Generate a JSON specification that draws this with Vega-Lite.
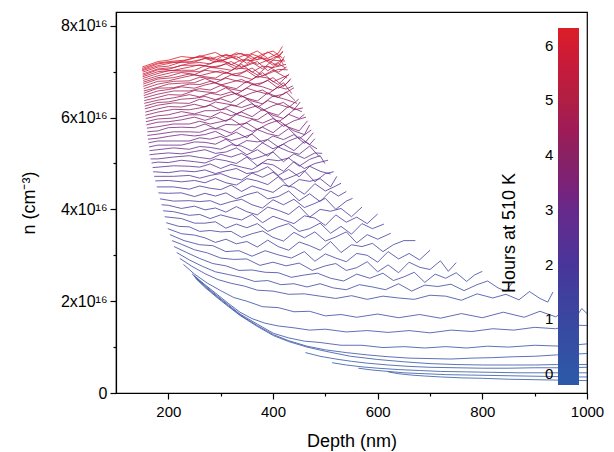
{
"$schema":"https://vega.github.io/schema/vega-lite/v6.json",
"width":471,"height":381,
"autosize":{"type":"none"},
"padding":{"left":116,"top":12,"right":27,"bottom":59},
"background":"white",
"config":{
"font":"Liberation Sans",
"view":{"stroke":"black","strokeWidth":1.2},
"axis":{"domainColor":"black","domainWidth":1.2,"tickColor":"black","tickWidth":1.2,"labelColor":"black","titleColor":"black","grid":false,"labelFontSize":15,"titleFontSize":18,"titleFontWeight":"normal","labelFont":"Liberation Sans","titleFont":"Liberation Sans"}
},
"resolve":{"axis":{"x":"independent","y":"independent"}},
"layer":[
{"data":{"values":[
{"h":6.2,"x":150,"y":7.10},{"h":6.2,"x":180,"y":7.22},{"h":6.2,"x":200,"y":7.25},{"h":6.2,"x":225,"y":7.33},{"h":6.2,"x":250,"y":7.30},{"h":6.2,"x":270,"y":7.36},{"h":6.2,"x":290,"y":7.42},{"h":6.2,"x":310,"y":7.30},{"h":6.2,"x":330,"y":7.41},{"h":6.2,"x":350,"y":7.35},{"h":6.2,"x":370,"y":7.45},{"h":6.2,"x":390,"y":7.29},{"h":6.2,"x":410,"y":7.40},{"h":6.2,"x":418,"y":7.55},
{"h":6.1,"x":150,"y":7.07},{"h":6.1,"x":180,"y":7.19},{"h":6.1,"x":210,"y":7.23},{"h":6.1,"x":240,"y":7.26},{"h":6.1,"x":260,"y":7.35},{"h":6.1,"x":280,"y":7.27},{"h":6.1,"x":300,"y":7.35},{"h":6.1,"x":320,"y":7.35},{"h":6.1,"x":340,"y":7.40},{"h":6.1,"x":360,"y":7.27},{"h":6.1,"x":380,"y":7.38},{"h":6.1,"x":400,"y":7.45},{"h":6.1,"x":418,"y":7.30},
{"h":6.0,"x":150,"y":7.04},{"h":6.0,"x":180,"y":7.17},{"h":6.0,"x":200,"y":7.20},{"h":6.0,"x":225,"y":7.22},{"h":6.0,"x":250,"y":7.31},{"h":6.0,"x":270,"y":7.32},{"h":6.0,"x":290,"y":7.25},{"h":6.0,"x":310,"y":7.38},{"h":6.0,"x":330,"y":7.29},{"h":6.0,"x":350,"y":7.38},{"h":6.0,"x":370,"y":7.26},{"h":6.0,"x":390,"y":7.43},{"h":6.0,"x":410,"y":7.30},{"h":6.0,"x":419,"y":7.45},
{"h":5.9,"x":150,"y":7.02},{"h":5.9,"x":180,"y":7.13},{"h":5.9,"x":210,"y":7.20},{"h":5.9,"x":240,"y":7.21},{"h":5.9,"x":260,"y":7.26},{"h":5.9,"x":280,"y":7.32},{"h":5.9,"x":300,"y":7.23},{"h":5.9,"x":320,"y":7.32},{"h":5.9,"x":340,"y":7.22},{"h":5.9,"x":360,"y":7.38},{"h":5.9,"x":380,"y":7.30},{"h":5.9,"x":400,"y":7.25},{"h":5.9,"x":419,"y":7.43},
{"h":5.8,"x":151,"y":6.99},{"h":5.8,"x":180,"y":7.10},{"h":5.8,"x":200,"y":7.12},{"h":5.8,"x":225,"y":7.21},{"h":5.8,"x":250,"y":7.21},{"h":5.8,"x":270,"y":7.29},{"h":5.8,"x":290,"y":7.21},{"h":5.8,"x":310,"y":7.27},{"h":5.8,"x":330,"y":7.34},{"h":5.8,"x":350,"y":7.18},{"h":5.8,"x":370,"y":7.32},{"h":5.8,"x":390,"y":7.24},{"h":5.8,"x":410,"y":7.35},{"h":5.8,"x":420,"y":7.15},
{"h":5.7,"x":151,"y":6.95},{"h":5.7,"x":180,"y":7.06},{"h":5.7,"x":210,"y":7.09},{"h":5.7,"x":240,"y":7.18},{"h":5.7,"x":260,"y":7.20},{"h":5.7,"x":280,"y":7.17},{"h":5.7,"x":300,"y":7.27},{"h":5.7,"x":320,"y":7.15},{"h":5.7,"x":340,"y":7.26},{"h":5.7,"x":360,"y":7.24},{"h":5.7,"x":380,"y":7.29},{"h":5.7,"x":400,"y":7.14},{"h":5.7,"x":421,"y":7.27},
{"h":5.6,"x":151,"y":6.92},{"h":5.6,"x":180,"y":7.04},{"h":5.6,"x":200,"y":7.05},{"h":5.6,"x":225,"y":7.14},{"h":5.6,"x":250,"y":7.14},{"h":5.6,"x":270,"y":7.13},{"h":5.6,"x":290,"y":7.22},{"h":5.6,"x":310,"y":7.21},{"h":5.6,"x":330,"y":7.11},{"h":5.6,"x":350,"y":7.28},{"h":5.6,"x":370,"y":7.16},{"h":5.6,"x":390,"y":7.25},{"h":5.6,"x":410,"y":7.12},{"h":5.6,"x":422,"y":7.33},
{"h":5.5,"x":151,"y":6.89},{"h":5.5,"x":180,"y":7.00},{"h":5.5,"x":210,"y":7.03},{"h":5.5,"x":240,"y":7.10},{"h":5.5,"x":260,"y":7.15},{"h":5.5,"x":280,"y":7.10},{"h":5.5,"x":300,"y":7.13},{"h":5.5,"x":320,"y":7.22},{"h":5.5,"x":340,"y":7.10},{"h":5.5,"x":360,"y":7.20},{"h":5.5,"x":380,"y":7.06},{"h":5.5,"x":400,"y":7.25},{"h":5.5,"x":423,"y":7.23},
{"h":5.4,"x":151,"y":6.85},{"h":5.4,"x":180,"y":6.96},{"h":5.4,"x":200,"y":7.02},{"h":5.4,"x":225,"y":7.03},{"h":5.4,"x":250,"y":7.03},{"h":5.4,"x":270,"y":7.13},{"h":5.4,"x":290,"y":7.09},{"h":5.4,"x":310,"y":7.17},{"h":5.4,"x":330,"y":7.05},{"h":5.4,"x":350,"y":7.13},{"h":5.4,"x":370,"y":7.22},{"h":5.4,"x":390,"y":7.02},{"h":5.4,"x":410,"y":7.18},{"h":5.4,"x":424,"y":7.08},
{"h":5.3,"x":152,"y":6.81},{"h":5.3,"x":180,"y":6.91},{"h":5.3,"x":210,"y":6.99},{"h":5.3,"x":240,"y":7.00},{"h":5.3,"x":260,"y":7.00},{"h":5.3,"x":280,"y":7.09},{"h":5.3,"x":300,"y":7.07},{"h":5.3,"x":320,"y":7.03},{"h":5.3,"x":340,"y":7.16},{"h":5.3,"x":360,"y":6.99},{"h":5.3,"x":380,"y":7.12},{"h":5.3,"x":400,"y":7.09},{"h":5.3,"x":425,"y":7.16},
{"h":5.2,"x":152,"y":6.77},{"h":5.2,"x":180,"y":6.87},{"h":5.2,"x":200,"y":6.90},{"h":5.2,"x":225,"y":6.98},{"h":5.2,"x":250,"y":6.94},{"h":5.2,"x":270,"y":7.03},{"h":5.2,"x":290,"y":7.00},{"h":5.2,"x":310,"y":6.96},{"h":5.2,"x":330,"y":7.08},{"h":5.2,"x":350,"y":7.06},{"h":5.2,"x":370,"y":6.93},{"h":5.2,"x":390,"y":7.12},{"h":5.2,"x":410,"y":6.99},{"h":5.2,"x":426,"y":7.10},
{"h":5.1,"x":152,"y":6.73},{"h":5.1,"x":180,"y":6.84},{"h":5.1,"x":210,"y":6.87},{"h":5.1,"x":240,"y":6.95},{"h":5.1,"x":260,"y":6.91},{"h":5.1,"x":280,"y":6.97},{"h":5.1,"x":300,"y":7.02},{"h":5.1,"x":320,"y":6.94},{"h":5.1,"x":340,"y":6.98},{"h":5.1,"x":360,"y":7.08},{"h":5.1,"x":380,"y":6.91},{"h":5.1,"x":400,"y":7.03},{"h":5.1,"x":427,"y":6.86},
{"h":5.0,"x":152,"y":6.68},{"h":5.0,"x":180,"y":6.79},{"h":5.0,"x":200,"y":6.80},{"h":5.0,"x":225,"y":6.87},{"h":5.0,"x":250,"y":6.93},{"h":5.0,"x":270,"y":6.89},{"h":5.0,"x":290,"y":6.86},{"h":5.0,"x":310,"y":6.99},{"h":5.0,"x":330,"y":6.91},{"h":5.0,"x":350,"y":7.02},{"h":5.0,"x":370,"y":6.87},{"h":5.0,"x":390,"y":6.95},{"h":5.0,"x":410,"y":7.05},{"h":5.0,"x":428,"y":7.04},
{"h":4.9,"x":153,"y":6.63},{"h":4.9,"x":180,"y":6.73},{"h":4.9,"x":210,"y":6.79},{"h":4.9,"x":240,"y":6.80},{"h":4.9,"x":260,"y":6.88},{"h":4.9,"x":280,"y":6.85},{"h":4.9,"x":300,"y":6.82},{"h":4.9,"x":320,"y":6.93},{"h":4.9,"x":340,"y":6.90},{"h":4.9,"x":360,"y":6.83},{"h":4.9,"x":380,"y":6.98},{"h":4.9,"x":400,"y":6.78},{"h":4.9,"x":430,"y":6.93},
{"h":4.8,"x":153,"y":6.58},{"h":4.8,"x":180,"y":6.66},{"h":4.8,"x":200,"y":6.73},{"h":4.8,"x":225,"y":6.75},{"h":4.8,"x":250,"y":6.76},{"h":4.8,"x":270,"y":6.85},{"h":4.8,"x":290,"y":6.76},{"h":4.8,"x":310,"y":6.86},{"h":4.8,"x":330,"y":6.80},{"h":4.8,"x":350,"y":6.76},{"h":4.8,"x":370,"y":6.90},{"h":4.8,"x":390,"y":6.86},{"h":4.8,"x":410,"y":6.72},{"h":4.8,"x":431,"y":6.95},
{"h":4.7,"x":153,"y":6.53},{"h":4.7,"x":180,"y":6.64},{"h":4.7,"x":210,"y":6.65},{"h":4.7,"x":240,"y":6.73},{"h":4.7,"x":260,"y":6.72},{"h":4.7,"x":280,"y":6.79},{"h":4.7,"x":300,"y":6.71},{"h":4.7,"x":320,"y":6.77},{"h":4.7,"x":340,"y":6.83},{"h":4.7,"x":360,"y":6.72},{"h":4.7,"x":380,"y":6.76},{"h":4.7,"x":400,"y":6.87},{"h":4.7,"x":420,"y":6.68},{"h":4.7,"x":433,"y":6.82},
{"h":4.6,"x":153,"y":6.48},{"h":4.6,"x":180,"y":6.58},{"h":4.6,"x":200,"y":6.61},{"h":4.6,"x":225,"y":6.67},{"h":4.6,"x":250,"y":6.64},{"h":4.6,"x":270,"y":6.71},{"h":4.6,"x":290,"y":6.76},{"h":4.6,"x":310,"y":6.68},{"h":4.6,"x":330,"y":6.63},{"h":4.6,"x":350,"y":6.79},{"h":4.6,"x":370,"y":6.70},{"h":4.6,"x":390,"y":6.81},{"h":4.6,"x":410,"y":6.64},{"h":4.6,"x":425,"y":6.73},{"h":4.6,"x":434,"y":6.85},
{"h":4.5,"x":154,"y":6.43},{"h":4.5,"x":180,"y":6.51},{"h":4.5,"x":210,"y":6.58},{"h":4.5,"x":240,"y":6.58},{"h":4.5,"x":260,"y":6.63},{"h":4.5,"x":280,"y":6.60},{"h":4.5,"x":300,"y":6.70},{"h":4.5,"x":320,"y":6.62},{"h":4.5,"x":340,"y":6.58},{"h":4.5,"x":360,"y":6.72},{"h":4.5,"x":380,"y":6.67},{"h":4.5,"x":400,"y":6.59},{"h":4.5,"x":420,"y":6.76},{"h":4.5,"x":436,"y":6.52},
{"h":4.4,"x":154,"y":6.37},{"h":4.4,"x":180,"y":6.44},{"h":4.4,"x":200,"y":6.50},{"h":4.4,"x":225,"y":6.49},{"h":4.4,"x":250,"y":6.59},{"h":4.4,"x":270,"y":6.56},{"h":4.4,"x":290,"y":6.54},{"h":4.4,"x":310,"y":6.65},{"h":4.4,"x":330,"y":6.51},{"h":4.4,"x":350,"y":6.64},{"h":4.4,"x":370,"y":6.57},{"h":4.4,"x":390,"y":6.51},{"h":4.4,"x":410,"y":6.67},{"h":4.4,"x":425,"y":6.62},{"h":4.4,"x":438,"y":6.69},
{"h":4.3,"x":154,"y":6.31},{"h":4.3,"x":180,"y":6.38},{"h":4.3,"x":210,"y":6.43},{"h":4.3,"x":240,"y":6.50},{"h":4.3,"x":260,"y":6.45},{"h":4.3,"x":280,"y":6.53},{"h":4.3,"x":300,"y":6.49},{"h":4.3,"x":320,"y":6.56},{"h":4.3,"x":340,"y":6.45},{"h":4.3,"x":360,"y":6.54},{"h":4.3,"x":380,"y":6.60},{"h":4.3,"x":400,"y":6.46},{"h":4.3,"x":420,"y":6.51},{"h":4.3,"x":440,"y":6.65},
{"h":4.2,"x":155,"y":6.25},{"h":4.2,"x":180,"y":6.33},{"h":4.2,"x":200,"y":6.34},{"h":4.2,"x":225,"y":6.40},{"h":4.2,"x":250,"y":6.42},{"h":4.2,"x":270,"y":6.46},{"h":4.2,"x":290,"y":6.39},{"h":4.2,"x":310,"y":6.47},{"h":4.2,"x":330,"y":6.53},{"h":4.2,"x":350,"y":6.42},{"h":4.2,"x":370,"y":6.36},{"h":4.2,"x":390,"y":6.54},{"h":4.2,"x":410,"y":6.44},{"h":4.2,"x":425,"y":6.56},{"h":4.2,"x":442,"y":6.37},
{"h":4.1,"x":155,"y":6.19},{"h":4.1,"x":180,"y":6.27},{"h":4.1,"x":210,"y":6.32},{"h":4.1,"x":240,"y":6.31},{"h":4.1,"x":260,"y":6.40},{"h":4.1,"x":280,"y":6.35},{"h":4.1,"x":300,"y":6.41},{"h":4.1,"x":320,"y":6.33},{"h":4.1,"x":340,"y":6.47},{"h":4.1,"x":360,"y":6.36},{"h":4.1,"x":380,"y":6.30},{"h":4.1,"x":400,"y":6.47},{"h":4.1,"x":420,"y":6.41},{"h":4.1,"x":446,"y":6.31},
{"h":4.0,"x":156,"y":6.12},{"h":4.0,"x":180,"y":6.19},{"h":4.0,"x":200,"y":6.24},{"h":4.0,"x":225,"y":6.23},{"h":4.0,"x":250,"y":6.29},{"h":4.0,"x":270,"y":6.23},{"h":4.0,"x":290,"y":6.34},{"h":4.0,"x":310,"y":6.30},{"h":4.0,"x":330,"y":6.26},{"h":4.0,"x":350,"y":6.40},{"h":4.0,"x":370,"y":6.22},{"h":4.0,"x":390,"y":6.37},{"h":4.0,"x":410,"y":6.29},{"h":4.0,"x":430,"y":6.22},{"h":4.0,"x":449,"y":6.40},
{"h":3.9,"x":156,"y":6.05},{"h":3.9,"x":180,"y":6.12},{"h":3.9,"x":210,"y":6.18},{"h":3.9,"x":240,"y":6.17},{"h":3.9,"x":260,"y":6.21},{"h":3.9,"x":280,"y":6.27},{"h":3.9,"x":300,"y":6.17},{"h":3.9,"x":320,"y":6.27},{"h":3.9,"x":340,"y":6.22},{"h":3.9,"x":360,"y":6.30},{"h":3.9,"x":380,"y":6.15},{"h":3.9,"x":400,"y":6.26},{"h":3.9,"x":420,"y":6.33},{"h":3.9,"x":440,"y":6.17},{"h":3.9,"x":452,"y":6.34},
{"h":3.8,"x":157,"y":5.98},{"h":3.8,"x":180,"y":6.04},{"h":3.8,"x":200,"y":6.06},{"h":3.8,"x":225,"y":6.13},{"h":3.8,"x":250,"y":6.08},{"h":3.8,"x":270,"y":6.15},{"h":3.8,"x":290,"y":6.15},{"h":3.8,"x":310,"y":6.19},{"h":3.8,"x":330,"y":6.08},{"h":3.8,"x":350,"y":6.19},{"h":3.8,"x":370,"y":6.26},{"h":3.8,"x":390,"y":6.12},{"h":3.8,"x":410,"y":6.05},{"h":3.8,"x":430,"y":6.25},{"h":3.8,"x":455,"y":6.13},
{"h":3.7,"x":157,"y":5.91},{"h":3.7,"x":180,"y":5.97},{"h":3.7,"x":210,"y":5.99},{"h":3.7,"x":240,"y":6.06},{"h":3.7,"x":260,"y":6.06},{"h":3.7,"x":280,"y":6.01},{"h":3.7,"x":300,"y":6.12},{"h":3.7,"x":320,"y":6.04},{"h":3.7,"x":340,"y":6.12},{"h":3.7,"x":360,"y":6.02},{"h":3.7,"x":380,"y":6.18},{"h":3.7,"x":400,"y":6.05},{"h":3.7,"x":420,"y":5.98},{"h":3.7,"x":440,"y":6.17},{"h":3.7,"x":457,"y":6.21},
{"h":3.6,"x":158,"y":5.84},{"h":3.6,"x":180,"y":5.90},{"h":3.6,"x":200,"y":5.91},{"h":3.6,"x":225,"y":5.95},{"h":3.6,"x":250,"y":6.01},{"h":3.6,"x":270,"y":5.94},{"h":3.6,"x":290,"y":6.01},{"h":3.6,"x":310,"y":5.92},{"h":3.6,"x":330,"y":6.07},{"h":3.6,"x":350,"y":6.00},{"h":3.6,"x":370,"y":5.95},{"h":3.6,"x":390,"y":6.10},{"h":3.6,"x":410,"y":5.90},{"h":3.6,"x":430,"y":6.07},{"h":3.6,"x":450,"y":5.98},{"h":3.6,"x":460,"y":6.07},
{"h":3.5,"x":159,"y":5.77},{"h":3.5,"x":180,"y":5.80},{"h":3.5,"x":210,"y":5.86},{"h":3.5,"x":240,"y":5.86},{"h":3.5,"x":260,"y":5.92},{"h":3.5,"x":280,"y":5.86},{"h":3.5,"x":300,"y":5.91},{"h":3.5,"x":320,"y":5.97},{"h":3.5,"x":340,"y":5.83},{"h":3.5,"x":360,"y":5.96},{"h":3.5,"x":380,"y":5.88},{"h":3.5,"x":400,"y":5.98},{"h":3.5,"x":420,"y":5.81},{"h":3.5,"x":440,"y":5.93},{"h":3.5,"x":463,"y":6.01},
{"h":3.4,"x":160,"y":5.69},{"h":3.4,"x":180,"y":5.71},{"h":3.4,"x":200,"y":5.78},{"h":3.4,"x":225,"y":5.79},{"h":3.4,"x":250,"y":5.78},{"h":3.4,"x":270,"y":5.86},{"h":3.4,"x":290,"y":5.76},{"h":3.4,"x":310,"y":5.85},{"h":3.4,"x":330,"y":5.84},{"h":3.4,"x":350,"y":5.88},{"h":3.4,"x":370,"y":5.74},{"h":3.4,"x":390,"y":5.86},{"h":3.4,"x":410,"y":5.94},{"h":3.4,"x":430,"y":5.79},{"h":3.4,"x":450,"y":5.71},{"h":3.4,"x":466,"y":5.93},
{"h":3.3,"x":160,"y":5.61},{"h":3.3,"x":180,"y":5.64},{"h":3.3,"x":210,"y":5.69},{"h":3.3,"x":240,"y":5.69},{"h":3.3,"x":260,"y":5.68},{"h":3.3,"x":280,"y":5.76},{"h":3.3,"x":300,"y":5.75},{"h":3.3,"x":320,"y":5.66},{"h":3.3,"x":340,"y":5.81},{"h":3.3,"x":360,"y":5.70},{"h":3.3,"x":380,"y":5.79},{"h":3.3,"x":400,"y":5.67},{"h":3.3,"x":420,"y":5.85},{"h":3.3,"x":440,"y":5.71},{"h":3.3,"x":460,"y":5.63},{"h":3.3,"x":470,"y":5.84},
{"h":3.2,"x":161,"y":5.53},{"h":3.2,"x":180,"y":5.55},{"h":3.2,"x":200,"y":5.59},{"h":3.2,"x":225,"y":5.63},{"h":3.2,"x":250,"y":5.60},{"h":3.2,"x":270,"y":5.63},{"h":3.2,"x":290,"y":5.70},{"h":3.2,"x":310,"y":5.58},{"h":3.2,"x":330,"y":5.68},{"h":3.2,"x":350,"y":5.56},{"h":3.2,"x":370,"y":5.74},{"h":3.2,"x":390,"y":5.65},{"h":3.2,"x":410,"y":5.60},{"h":3.2,"x":430,"y":5.76},{"h":3.2,"x":450,"y":5.54},{"h":3.2,"x":473,"y":5.73},
{"h":3.1,"x":162,"y":5.45},{"h":3.1,"x":180,"y":5.49},{"h":3.1,"x":210,"y":5.49},{"h":3.1,"x":240,"y":5.49},{"h":3.1,"x":260,"y":5.56},{"h":3.1,"x":280,"y":5.53},{"h":3.1,"x":300,"y":5.59},{"h":3.1,"x":320,"y":5.50},{"h":3.1,"x":340,"y":5.56},{"h":3.1,"x":360,"y":5.64},{"h":3.1,"x":380,"y":5.45},{"h":3.1,"x":400,"y":5.60},{"h":3.1,"x":420,"y":5.52},{"h":3.1,"x":440,"y":5.63},{"h":3.1,"x":460,"y":5.44},{"h":3.1,"x":477,"y":5.67},
{"h":3.0,"x":163,"y":5.36},{"h":3.0,"x":180,"y":5.40},{"h":3.0,"x":200,"y":5.40},{"h":3.0,"x":225,"y":5.40},{"h":3.0,"x":250,"y":5.47},{"h":3.0,"x":270,"y":5.46},{"h":3.0,"x":290,"y":5.42},{"h":3.0,"x":310,"y":5.53},{"h":3.0,"x":330,"y":5.38},{"h":3.0,"x":350,"y":5.50},{"h":3.0,"x":370,"y":5.47},{"h":3.0,"x":390,"y":5.52},{"h":3.0,"x":410,"y":5.36},{"h":3.0,"x":430,"y":5.49},{"h":3.0,"x":450,"y":5.58},{"h":3.0,"x":470,"y":5.41},{"h":3.0,"x":480,"y":5.54},
{"h":2.9,"x":164,"y":5.28},{"h":2.9,"x":180,"y":5.30},{"h":2.9,"x":210,"y":5.34},{"h":2.9,"x":240,"y":5.31},{"h":2.9,"x":260,"y":5.37},{"h":2.9,"x":280,"y":5.35},{"h":2.9,"x":300,"y":5.31},{"h":2.9,"x":320,"y":5.41},{"h":2.9,"x":340,"y":5.38},{"h":2.9,"x":360,"y":5.27},{"h":2.9,"x":380,"y":5.45},{"h":2.9,"x":400,"y":5.32},{"h":2.9,"x":420,"y":5.42},{"h":2.9,"x":440,"y":5.28},{"h":2.9,"x":460,"y":5.48},{"h":2.9,"x":484,"y":5.32},
{"h":2.8,"x":164,"y":5.19},{"h":2.8,"x":180,"y":5.21},{"h":2.8,"x":200,"y":5.23},{"h":2.8,"x":225,"y":5.21},{"h":2.8,"x":250,"y":5.26},{"h":2.8,"x":270,"y":5.30},{"h":2.8,"x":290,"y":5.22},{"h":2.8,"x":310,"y":5.25},{"h":2.8,"x":330,"y":5.34},{"h":2.8,"x":350,"y":5.19},{"h":2.8,"x":370,"y":5.30},{"h":2.8,"x":390,"y":5.16},{"h":2.8,"x":410,"y":5.36},{"h":2.8,"x":430,"y":5.26},{"h":2.8,"x":450,"y":5.20},{"h":2.8,"x":470,"y":5.38},{"h":2.8,"x":489,"y":5.14},
{"h":2.7,"x":166,"y":5.10},{"h":2.7,"x":180,"y":5.10},{"h":2.7,"x":210,"y":5.14},{"h":2.7,"x":240,"y":5.17},{"h":2.7,"x":260,"y":5.13},{"h":2.7,"x":280,"y":5.10},{"h":2.7,"x":300,"y":5.20},{"h":2.7,"x":320,"y":5.14},{"h":2.7,"x":340,"y":5.22},{"h":2.7,"x":360,"y":5.09},{"h":2.7,"x":380,"y":5.16},{"h":2.7,"x":400,"y":5.25},{"h":2.7,"x":420,"y":5.04},{"h":2.7,"x":440,"y":5.21},{"h":2.7,"x":460,"y":5.11},{"h":2.7,"x":480,"y":5.23},{"h":2.7,"x":494,"y":5.22},
{"h":2.6,"x":168,"y":5.01},{"h":2.6,"x":180,"y":5.03},{"h":2.6,"x":200,"y":5.02},{"h":2.6,"x":225,"y":5.07},{"h":2.6,"x":250,"y":5.04},{"h":2.6,"x":270,"y":5.01},{"h":2.6,"x":290,"y":5.10},{"h":2.6,"x":310,"y":5.06},{"h":2.6,"x":330,"y":5.00},{"h":2.6,"x":350,"y":5.14},{"h":2.6,"x":370,"y":4.95},{"h":2.6,"x":390,"y":5.09},{"h":2.6,"x":410,"y":5.06},{"h":2.6,"x":430,"y":5.12},{"h":2.6,"x":450,"y":4.94},{"h":2.6,"x":470,"y":5.09},{"h":2.6,"x":490,"y":5.17},{"h":2.6,"x":499,"y":5.00},
{"h":2.5,"x":170,"y":4.91},{"h":2.5,"x":210,"y":4.95},{"h":2.5,"x":240,"y":4.94},{"h":2.5,"x":260,"y":4.92},{"h":2.5,"x":280,"y":4.99},{"h":2.5,"x":300,"y":4.89},{"h":2.5,"x":320,"y":4.98},{"h":2.5,"x":340,"y":4.92},{"h":2.5,"x":360,"y":4.87},{"h":2.5,"x":380,"y":5.01},{"h":2.5,"x":400,"y":4.97},{"h":2.5,"x":420,"y":4.83},{"h":2.5,"x":440,"y":5.04},{"h":2.5,"x":460,"y":4.89},{"h":2.5,"x":480,"y":5.00},{"h":2.5,"x":505,"y":5.07},
{"h":2.4,"x":171,"y":4.82},{"h":2.4,"x":200,"y":4.80},{"h":2.4,"x":225,"y":4.84},{"h":2.4,"x":250,"y":4.82},{"h":2.4,"x":270,"y":4.86},{"h":2.4,"x":290,"y":4.78},{"h":2.4,"x":310,"y":4.84},{"h":2.4,"x":330,"y":4.89},{"h":2.4,"x":350,"y":4.78},{"h":2.4,"x":370,"y":4.82},{"h":2.4,"x":390,"y":4.93},{"h":2.4,"x":410,"y":4.74},{"h":2.4,"x":430,"y":4.87},{"h":2.4,"x":450,"y":4.71},{"h":2.4,"x":470,"y":4.94},{"h":2.4,"x":490,"y":4.83},{"h":2.4,"x":510,"y":4.77},
{"h":2.3,"x":173,"y":4.72},{"h":2.3,"x":210,"y":4.72},{"h":2.3,"x":240,"y":4.74},{"h":2.3,"x":260,"y":4.68},{"h":2.3,"x":280,"y":4.74},{"h":2.3,"x":300,"y":4.78},{"h":2.3,"x":320,"y":4.69},{"h":2.3,"x":340,"y":4.64},{"h":2.3,"x":360,"y":4.79},{"h":2.3,"x":380,"y":4.70},{"h":2.3,"x":400,"y":4.81},{"h":2.3,"x":420,"y":4.64},{"h":2.3,"x":440,"y":4.73},{"h":2.3,"x":460,"y":4.84},{"h":2.3,"x":480,"y":4.60},{"h":2.3,"x":500,"y":4.78},{"h":2.3,"x":516,"y":4.82},
{"h":2.2,"x":175,"y":4.62},{"h":2.2,"x":200,"y":4.63},{"h":2.2,"x":225,"y":4.60},{"h":2.2,"x":250,"y":4.63},{"h":2.2,"x":270,"y":4.58},{"h":2.2,"x":290,"y":4.67},{"h":2.2,"x":310,"y":4.58},{"h":2.2,"x":330,"y":4.53},{"h":2.2,"x":350,"y":4.67},{"h":2.2,"x":370,"y":4.62},{"h":2.2,"x":390,"y":4.54},{"h":2.2,"x":410,"y":4.71},{"h":2.2,"x":430,"y":4.49},{"h":2.2,"x":450,"y":4.65},{"h":2.2,"x":470,"y":4.61},{"h":2.2,"x":490,"y":4.67},{"h":2.2,"x":510,"y":4.49},{"h":2.2,"x":522,"y":4.72},
{"h":2.1,"x":178,"y":4.49},{"h":2.1,"x":210,"y":4.49},{"h":2.1,"x":240,"y":4.44},{"h":2.1,"x":260,"y":4.51},{"h":2.1,"x":280,"y":4.46},{"h":2.1,"x":300,"y":4.43},{"h":2.1,"x":320,"y":4.53},{"h":2.1,"x":340,"y":4.39},{"h":2.1,"x":360,"y":4.51},{"h":2.1,"x":380,"y":4.44},{"h":2.1,"x":400,"y":4.37},{"h":2.1,"x":420,"y":4.53},{"h":2.1,"x":440,"y":4.48},{"h":2.1,"x":460,"y":4.33},{"h":2.1,"x":480,"y":4.56},{"h":2.1,"x":500,"y":4.40},{"h":2.1,"x":520,"y":4.51},{"h":2.1,"x":530,"y":4.57},
{"h":2.0,"x":181,"y":4.36},{"h":2.0,"x":200,"y":4.35},{"h":2.0,"x":225,"y":4.36},{"h":2.0,"x":250,"y":4.28},{"h":2.0,"x":270,"y":4.35},{"h":2.0,"x":290,"y":4.29},{"h":2.0,"x":310,"y":4.36},{"h":2.0,"x":330,"y":4.23},{"h":2.0,"x":350,"y":4.32},{"h":2.0,"x":370,"y":4.38},{"h":2.0,"x":390,"y":4.23},{"h":2.0,"x":410,"y":4.28},{"h":2.0,"x":430,"y":4.40},{"h":2.0,"x":450,"y":4.19},{"h":2.0,"x":470,"y":4.34},{"h":2.0,"x":490,"y":4.17},{"h":2.0,"x":510,"y":4.40},{"h":2.0,"x":525,"y":4.29},{"h":2.0,"x":540,"y":4.39},
{"h":1.9,"x":184,"y":4.23},{"h":1.9,"x":210,"y":4.18},{"h":1.9,"x":240,"y":4.19},{"h":1.9,"x":260,"y":4.17},{"h":1.9,"x":280,"y":4.19},{"h":1.9,"x":300,"y":4.10},{"h":1.9,"x":320,"y":4.17},{"h":1.9,"x":340,"y":4.22},{"h":1.9,"x":360,"y":4.10},{"h":1.9,"x":380,"y":4.03},{"h":1.9,"x":400,"y":4.21},{"h":1.9,"x":420,"y":4.10},{"h":1.9,"x":440,"y":4.22},{"h":1.9,"x":460,"y":4.04},{"h":1.9,"x":480,"y":4.13},{"h":1.9,"x":500,"y":4.24},{"h":1.9,"x":520,"y":4.00},{"h":1.9,"x":540,"y":4.18},{"h":1.9,"x":552,"y":4.24},
{"h":1.8,"x":187,"y":4.10},{"h":1.8,"x":200,"y":4.09},{"h":1.8,"x":225,"y":4.02},{"h":1.8,"x":250,"y":4.07},{"h":1.8,"x":270,"y":3.99},{"h":1.8,"x":290,"y":4.03},{"h":1.8,"x":310,"y":3.94},{"h":1.8,"x":330,"y":4.06},{"h":1.8,"x":350,"y":3.95},{"h":1.8,"x":370,"y":3.88},{"h":1.8,"x":390,"y":4.05},{"h":1.8,"x":410,"y":3.98},{"h":1.8,"x":430,"y":3.89},{"h":1.8,"x":450,"y":4.07},{"h":1.8,"x":470,"y":3.83},{"h":1.8,"x":490,"y":4.00},{"h":1.8,"x":510,"y":3.96},{"h":1.8,"x":530,"y":4.02},{"h":1.8,"x":550,"y":3.84},{"h":1.8,"x":570,"y":4.05},
{"h":1.7,"x":190,"y":3.97},{"h":1.7,"x":210,"y":3.95},{"h":1.7,"x":240,"y":3.87},{"h":1.7,"x":260,"y":3.89},{"h":1.7,"x":280,"y":3.80},{"h":1.7,"x":300,"y":3.88},{"h":1.7,"x":320,"y":3.82},{"h":1.7,"x":340,"y":3.77},{"h":1.7,"x":360,"y":3.89},{"h":1.7,"x":380,"y":3.71},{"h":1.7,"x":400,"y":3.85},{"h":1.7,"x":420,"y":3.77},{"h":1.7,"x":440,"y":3.69},{"h":1.7,"x":460,"y":3.86},{"h":1.7,"x":480,"y":3.81},{"h":1.7,"x":500,"y":3.65},{"h":1.7,"x":520,"y":3.88},{"h":1.7,"x":540,"y":3.72},{"h":1.7,"x":560,"y":3.83},{"h":1.7,"x":580,"y":3.69},{"h":1.7,"x":600,"y":3.90},
{"h":1.6,"x":193,"y":3.84},{"h":1.6,"x":225,"y":3.80},{"h":1.6,"x":250,"y":3.70},{"h":1.6,"x":270,"y":3.70},{"h":1.6,"x":290,"y":3.73},{"h":1.6,"x":310,"y":3.59},{"h":1.6,"x":330,"y":3.68},{"h":1.6,"x":350,"y":3.60},{"h":1.6,"x":370,"y":3.69},{"h":1.6,"x":390,"y":3.52},{"h":1.6,"x":410,"y":3.62},{"h":1.6,"x":430,"y":3.69},{"h":1.6,"x":450,"y":3.52},{"h":1.6,"x":470,"y":3.58},{"h":1.6,"x":490,"y":3.70},{"h":1.6,"x":510,"y":3.48},{"h":1.6,"x":530,"y":3.63},{"h":1.6,"x":550,"y":3.46},{"h":1.6,"x":570,"y":3.69},{"h":1.6,"x":590,"y":3.58},{"h":1.6,"x":612,"y":3.68},
{"h":1.5,"x":196,"y":3.71},{"h":1.5,"x":220,"y":3.63},{"h":1.5,"x":240,"y":3.62},{"h":1.5,"x":260,"y":3.52},{"h":1.5,"x":280,"y":3.54},{"h":1.5,"x":300,"y":3.51},{"h":1.5,"x":320,"y":3.52},{"h":1.5,"x":340,"y":3.39},{"h":1.5,"x":360,"y":3.47},{"h":1.5,"x":380,"y":3.53},{"h":1.5,"x":400,"y":3.39},{"h":1.5,"x":420,"y":3.31},{"h":1.5,"x":440,"y":3.50},{"h":1.5,"x":460,"y":3.38},{"h":1.5,"x":480,"y":3.51},{"h":1.5,"x":500,"y":3.31},{"h":1.5,"x":520,"y":3.40},{"h":1.5,"x":540,"y":3.51},{"h":1.5,"x":560,"y":3.27},{"h":1.5,"x":580,"y":3.45},{"h":1.5,"x":600,"y":3.35},{"h":1.5,"x":625,"y":3.48},
{"h":1.4,"x":199,"y":3.58},{"h":1.4,"x":225,"y":3.47},{"h":1.4,"x":250,"y":3.44},{"h":1.4,"x":270,"y":3.38},{"h":1.4,"x":290,"y":3.28},{"h":1.4,"x":310,"y":3.35},{"h":1.4,"x":330,"y":3.25},{"h":1.4,"x":350,"y":3.30},{"h":1.4,"x":370,"y":3.18},{"h":1.4,"x":390,"y":3.33},{"h":1.4,"x":410,"y":3.19},{"h":1.4,"x":430,"y":3.11},{"h":1.4,"x":450,"y":3.29},{"h":1.4,"x":470,"y":3.21},{"h":1.4,"x":490,"y":3.11},{"h":1.4,"x":510,"y":3.30},{"h":1.4,"x":530,"y":3.06},{"h":1.4,"x":550,"y":3.23},{"h":1.4,"x":570,"y":3.19},{"h":1.4,"x":590,"y":3.26},{"h":1.4,"x":610,"y":3.08},{"h":1.4,"x":630,"y":3.23},{"h":1.4,"x":650,"y":3.32},{"h":1.4,"x":672,"y":3.32},
{"h":1.3,"x":203,"y":3.45},{"h":1.3,"x":230,"y":3.32},{"h":1.3,"x":260,"y":3.23},{"h":1.3,"x":285,"y":3.21},{"h":1.3,"x":310,"y":3.08},{"h":1.3,"x":335,"y":3.10},{"h":1.3,"x":360,"y":2.98},{"h":1.3,"x":385,"y":3.10},{"h":1.3,"x":410,"y":3.01},{"h":1.3,"x":435,"y":2.94},{"h":1.3,"x":460,"y":3.08},{"h":1.3,"x":480,"y":2.87},{"h":1.3,"x":500,"y":3.03},{"h":1.3,"x":520,"y":2.94},{"h":1.3,"x":540,"y":2.86},{"h":1.3,"x":560,"y":3.04},{"h":1.3,"x":580,"y":3.00},{"h":1.3,"x":600,"y":2.85},{"h":1.3,"x":620,"y":3.08},{"h":1.3,"x":640,"y":2.92},{"h":1.3,"x":660,"y":3.04},{"h":1.3,"x":680,"y":2.90},{"h":1.3,"x":700,"y":3.11},
{"h":1.2,"x":207,"y":3.32},{"h":1.2,"x":225,"y":3.24},{"h":1.2,"x":250,"y":3.12},{"h":1.2,"x":275,"y":3.05},{"h":1.2,"x":300,"y":2.94},{"h":1.2,"x":325,"y":2.91},{"h":1.2,"x":350,"y":2.92},{"h":1.2,"x":375,"y":2.78},{"h":1.2,"x":400,"y":2.85},{"h":1.2,"x":425,"y":2.77},{"h":1.2,"x":450,"y":2.83},{"h":1.2,"x":475,"y":2.67},{"h":1.2,"x":500,"y":2.77},{"h":1.2,"x":520,"y":2.82},{"h":1.2,"x":540,"y":2.67},{"h":1.2,"x":560,"y":2.73},{"h":1.2,"x":580,"y":2.86},{"h":1.2,"x":600,"y":2.64},{"h":1.2,"x":620,"y":2.79},{"h":1.2,"x":640,"y":2.62},{"h":1.2,"x":660,"y":2.85},{"h":1.2,"x":680,"y":2.74},{"h":1.2,"x":700,"y":2.69},{"h":1.2,"x":720,"y":2.88},{"h":1.2,"x":735,"y":2.65},{"h":1.2,"x":750,"y":2.84},
{"h":1.1,"x":211,"y":3.19},{"h":1.1,"x":235,"y":3.06},{"h":1.1,"x":260,"y":2.93},{"h":1.1,"x":285,"y":2.82},{"h":1.1,"x":310,"y":2.77},{"h":1.1,"x":335,"y":2.67},{"h":1.1,"x":360,"y":2.68},{"h":1.1,"x":385,"y":2.63},{"h":1.1,"x":410,"y":2.62},{"h":1.1,"x":435,"y":2.52},{"h":1.1,"x":460,"y":2.57},{"h":1.1,"x":485,"y":2.61},{"h":1.1,"x":510,"y":2.50},{"h":1.1,"x":535,"y":2.44},{"h":1.1,"x":560,"y":2.59},{"h":1.1,"x":585,"y":2.50},{"h":1.1,"x":610,"y":2.61},{"h":1.1,"x":630,"y":2.45},{"h":1.1,"x":650,"y":2.53},{"h":1.1,"x":670,"y":2.63},{"h":1.1,"x":690,"y":2.41},{"h":1.1,"x":710,"y":2.59},{"h":1.1,"x":730,"y":2.50},{"h":1.1,"x":750,"y":2.62},{"h":1.1,"x":770,"y":2.43},{"h":1.1,"x":785,"y":2.57},{"h":1.1,"x":800,"y":2.65},
{"h":1.0,"x":216,"y":3.06},{"h":1.0,"x":240,"y":2.90},{"h":1.0,"x":265,"y":2.76},{"h":1.0,"x":290,"y":2.64},{"h":1.0,"x":315,"y":2.58},{"h":1.0,"x":340,"y":2.52},{"h":1.0,"x":365,"y":2.43},{"h":1.0,"x":390,"y":2.45},{"h":1.0,"x":415,"y":2.36},{"h":1.0,"x":440,"y":2.38},{"h":1.0,"x":465,"y":2.31},{"h":1.0,"x":490,"y":2.38},{"h":1.0,"x":515,"y":2.29},{"h":1.0,"x":540,"y":2.25},{"h":1.0,"x":565,"y":2.36},{"h":1.0,"x":590,"y":2.31},{"h":1.0,"x":615,"y":2.25},{"h":1.0,"x":640,"y":2.38},{"h":1.0,"x":665,"y":2.22},{"h":1.0,"x":690,"y":2.35},{"h":1.0,"x":715,"y":2.32},{"h":1.0,"x":740,"y":2.37},{"h":1.0,"x":765,"y":2.23},{"h":1.0,"x":790,"y":2.36},{"h":1.0,"x":810,"y":2.44},{"h":1.0,"x":830,"y":2.29},{"h":1.0,"x":845,"y":2.22},{"h":1.0,"x":860,"y":2.44},
{"h":0.9,"x":222,"y":2.93},{"h":0.9,"x":245,"y":2.76},{"h":0.9,"x":270,"y":2.60},{"h":0.9,"x":295,"y":2.47},{"h":0.9,"x":320,"y":2.39},{"h":0.9,"x":345,"y":2.33},{"h":0.9,"x":370,"y":2.24},{"h":0.9,"x":400,"y":2.22},{"h":0.9,"x":430,"y":2.15},{"h":0.9,"x":460,"y":2.16},{"h":0.9,"x":490,"y":2.11},{"h":0.9,"x":520,"y":2.06},{"h":0.9,"x":550,"y":2.12},{"h":0.9,"x":580,"y":2.04},{"h":0.9,"x":610,"y":2.11},{"h":0.9,"x":640,"y":2.07},{"h":0.9,"x":670,"y":2.04},{"h":0.9,"x":700,"y":2.13},{"h":0.9,"x":730,"y":2.11},{"h":0.9,"x":760,"y":2.02},{"h":0.9,"x":790,"y":2.16},{"h":0.9,"x":820,"y":2.07},{"h":0.9,"x":845,"y":2.15},{"h":0.9,"x":870,"y":2.03},{"h":0.9,"x":890,"y":2.21},{"h":0.9,"x":910,"y":2.06},{"h":0.9,"x":925,"y":1.98},{"h":0.9,"x":935,"y":2.20},
{"h":0.8,"x":229,"y":2.80},{"h":0.8,"x":250,"y":2.59},{"h":0.8,"x":275,"y":2.39},{"h":0.8,"x":300,"y":2.23},{"h":0.8,"x":325,"y":2.08},{"h":0.8,"x":350,"y":2.00},{"h":0.8,"x":380,"y":1.88},{"h":0.8,"x":410,"y":1.86},{"h":0.8,"x":440,"y":1.77},{"h":0.8,"x":470,"y":1.78},{"h":0.8,"x":500,"y":1.68},{"h":0.8,"x":530,"y":1.71},{"h":0.8,"x":560,"y":1.65},{"h":0.8,"x":600,"y":1.72},{"h":0.8,"x":640,"y":1.64},{"h":0.8,"x":680,"y":1.71},{"h":0.8,"x":720,"y":1.63},{"h":0.8,"x":760,"y":1.73},{"h":0.8,"x":800,"y":1.64},{"h":0.8,"x":840,"y":1.76},{"h":0.8,"x":880,"y":1.65},{"h":0.8,"x":910,"y":1.78},{"h":0.8,"x":940,"y":1.66},{"h":0.8,"x":960,"y":1.80},{"h":0.8,"x":980,"y":1.67},{"h":0.8,"x":990,"y":1.84},{"h":0.8,"x":1000,"y":1.73},
{"h":0.7,"x":245,"y":2.60},{"h":0.7,"x":270,"y":2.36},{"h":0.7,"x":293,"y":2.15},{"h":0.7,"x":315,"y":1.95},{"h":0.7,"x":337,"y":1.76},{"h":0.7,"x":360,"y":1.62},{"h":0.7,"x":385,"y":1.52},{"h":0.7,"x":410,"y":1.46},{"h":0.7,"x":440,"y":1.42},{"h":0.7,"x":470,"y":1.37},{"h":0.7,"x":500,"y":1.39},{"h":0.7,"x":540,"y":1.33},{"h":0.7,"x":580,"y":1.36},{"h":0.7,"x":620,"y":1.32},{"h":0.7,"x":660,"y":1.36},{"h":0.7,"x":700,"y":1.31},{"h":0.7,"x":740,"y":1.37},{"h":0.7,"x":780,"y":1.34},{"h":0.7,"x":820,"y":1.40},{"h":0.7,"x":860,"y":1.37},{"h":0.7,"x":900,"y":1.43},{"h":0.7,"x":940,"y":1.40},{"h":0.7,"x":970,"y":1.48},{"h":0.7,"x":1000,"y":1.47},
{"h":0.6,"x":248,"y":2.56},{"h":0.6,"x":270,"y":2.34},{"h":0.6,"x":293,"y":2.12},{"h":0.6,"x":315,"y":1.92},{"h":0.6,"x":337,"y":1.72},{"h":0.6,"x":370,"y":1.50},{"h":0.6,"x":401,"y":1.30},{"h":0.6,"x":430,"y":1.20},{"h":0.6,"x":460,"y":1.13},{"h":0.6,"x":490,"y":1.10},{"h":0.6,"x":530,"y":1.04},{"h":0.6,"x":570,"y":1.04},{"h":0.6,"x":610,"y":0.99},{"h":0.6,"x":650,"y":1.01},{"h":0.6,"x":690,"y":0.98},{"h":0.6,"x":730,"y":1.01},{"h":0.6,"x":770,"y":0.98},{"h":0.6,"x":810,"y":1.02},{"h":0.6,"x":850,"y":1.00},{"h":0.6,"x":900,"y":1.04},{"h":0.6,"x":950,"y":1.02},{"h":0.6,"x":1000,"y":1.07},
{"h":0.5,"x":250,"y":2.53},{"h":0.5,"x":270,"y":2.32},{"h":0.5,"x":293,"y":2.10},{"h":0.5,"x":315,"y":1.90},{"h":0.5,"x":337,"y":1.70},{"h":0.5,"x":370,"y":1.47},{"h":0.5,"x":401,"y":1.27},{"h":0.5,"x":430,"y":1.14},{"h":0.5,"x":465,"y":1.02},{"h":0.5,"x":500,"y":0.94},{"h":0.5,"x":540,"y":0.88},{"h":0.5,"x":580,"y":0.83},{"h":0.5,"x":620,"y":0.79},{"h":0.5,"x":660,"y":0.76},{"h":0.5,"x":700,"y":0.75},{"h":0.5,"x":740,"y":0.74},{"h":0.5,"x":780,"y":0.76},{"h":0.5,"x":820,"y":0.77},{"h":0.5,"x":860,"y":0.79},{"h":0.5,"x":900,"y":0.80},{"h":0.5,"x":942,"y":0.83},{"h":0.5,"x":1000,"y":0.86},
{"h":0.4,"x":252,"y":2.50},{"h":0.4,"x":270,"y":2.30},{"h":0.4,"x":293,"y":2.08},{"h":0.4,"x":315,"y":1.88},{"h":0.4,"x":337,"y":1.69},{"h":0.4,"x":370,"y":1.45},{"h":0.4,"x":401,"y":1.25},{"h":0.4,"x":430,"y":1.12},{"h":0.4,"x":465,"y":1.00},{"h":0.4,"x":500,"y":0.91},{"h":0.4,"x":548,"y":0.80},{"h":0.4,"x":600,"y":0.73},{"h":0.4,"x":650,"y":0.68},{"h":0.4,"x":700,"y":0.64},{"h":0.4,"x":750,"y":0.62},{"h":0.4,"x":800,"y":0.61},{"h":0.4,"x":860,"y":0.61},{"h":0.4,"x":900,"y":0.61},{"h":0.4,"x":942,"y":0.62},{"h":0.4,"x":1000,"y":0.62},
{"h":0.3,"x":462,"y":0.88},{"h":0.3,"x":490,"y":0.80},{"h":0.3,"x":520,"y":0.74},{"h":0.3,"x":550,"y":0.69},{"h":0.3,"x":580,"y":0.65},{"h":0.3,"x":620,"y":0.61},{"h":0.3,"x":660,"y":0.58},{"h":0.3,"x":700,"y":0.56},{"h":0.3,"x":750,"y":0.55},{"h":0.3,"x":800,"y":0.54},{"h":0.3,"x":850,"y":0.54},{"h":0.3,"x":900,"y":0.55},{"h":0.3,"x":950,"y":0.55},{"h":0.3,"x":1000,"y":0.56},
{"h":0.2,"x":513,"y":0.66},{"h":0.2,"x":540,"y":0.61},{"h":0.2,"x":570,"y":0.57},{"h":0.2,"x":600,"y":0.54},{"h":0.2,"x":640,"y":0.51},{"h":0.2,"x":680,"y":0.49},{"h":0.2,"x":720,"y":0.47},{"h":0.2,"x":770,"y":0.46},{"h":0.2,"x":820,"y":0.45},{"h":0.2,"x":870,"y":0.44},{"h":0.2,"x":920,"y":0.44},{"h":0.2,"x":960,"y":0.44},{"h":0.2,"x":1000,"y":0.44},
{"h":0.1,"x":563,"y":0.54},{"h":0.1,"x":590,"y":0.50},{"h":0.1,"x":620,"y":0.47},{"h":0.1,"x":650,"y":0.44},{"h":0.1,"x":690,"y":0.42},{"h":0.1,"x":730,"y":0.40},{"h":0.1,"x":780,"y":0.39},{"h":0.1,"x":830,"y":0.38},{"h":0.1,"x":880,"y":0.37},{"h":0.1,"x":930,"y":0.36},{"h":0.1,"x":970,"y":0.35},{"h":0.1,"x":1000,"y":0.35},
{"h":0.0,"x":620,"y":0.46},{"h":0.0,"x":640,"y":0.42},{"h":0.0,"x":665,"y":0.39},{"h":0.0,"x":690,"y":0.37},{"h":0.0,"x":720,"y":0.35},{"h":0.0,"x":760,"y":0.33},{"h":0.0,"x":800,"y":0.32},{"h":0.0,"x":850,"y":0.30},{"h":0.0,"x":900,"y":0.29},{"h":0.0,"x":950,"y":0.28},{"h":0.0,"x":1000,"y":0.27}
]},
"mark":{"type":"line","strokeWidth":0.8,"clip":true},
"encoding":{
"x":{"field":"x","type":"quantitative","scale":{"domain":[100,1000],"nice":false,"zero":false},"axis":{"values":[200,400,600,800,1000],"format":"d","tickSize":6,"labelPadding":5,"title":"Depth (nm)","titlePadding":13,"labelFlush":false}},
"y":{"field":"y","type":"quantitative","scale":{"domain":[0,8.3],"nice":false,"zero":false},"axis":{"values":[0,2,4,6,8],"tickSize":6,"labelPadding":3,"labelFontSize":16,"labelExpr":"datum.value == 0 ? '0' : datum.value + 'x10¹⁶'","title":"n (cm⁻³)","titlePadding":22}},
"color":{"field":"h","type":"quantitative","scale":{"domain":[-0.2,1,2,3,4,5,6.32],"range":["#2c5aa8","#3a47a0","#48359a","#66298a","#8a2163","#b01f44","#dc1f27"]},
"legend":{"orient":"none","legendX":385,"legendY":16,"direction":"vertical","gradientLength":357,"gradientThickness":21,"values":[0,1,2,3,4,5,6],"title":"Hours at 510 K\u2800\u2800\u2800\u2800","titleOrient":"left","titleFontSize":18,"titleFontWeight":"normal","titleColor":"black","titleFont":"Liberation Sans","labelFont":"Liberation Sans","labelFontSize":15,"labelColor":"black","labelOffset":-34,"gradientStrokeWidth":0,"padding":0,"titlePadding":38}},
"detail":{"field":"h","type":"nominal"}
}},
{"data":{"values":[{"x":500,"y":4}]},
"mark":{"type":"point","opacity":0},
"encoding":{
"x":{"field":"x","type":"quantitative","scale":{"domain":[100,1000],"nice":false,"zero":false},"axis":{"orient":"bottom","values":[300,500,700,900],"tickSize":3,"labels":false,"domain":false,"title":null}},
"y":{"field":"y","type":"quantitative","scale":{"domain":[0,8.3],"nice":false,"zero":false},"axis":{"orient":"left","values":[1,3,5,7],"tickSize":3,"labels":false,"domain":false,"title":null}}
}}
]
}
